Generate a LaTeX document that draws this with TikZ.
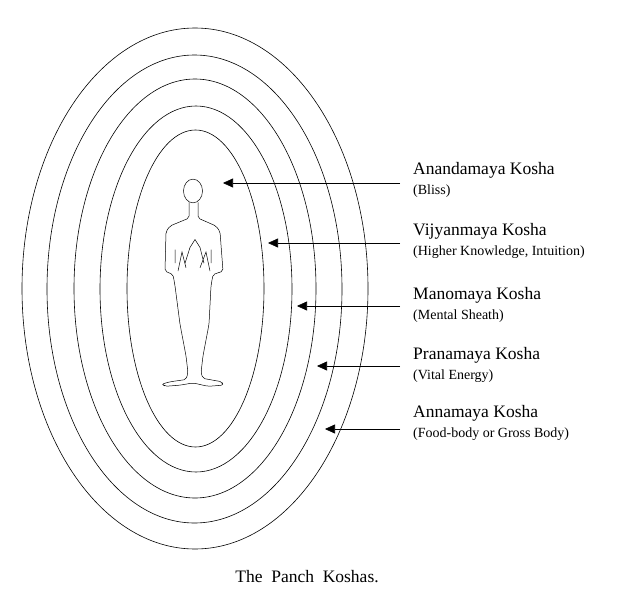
\documentclass[tikz,border=0pt]{standalone}
\usepackage{fontspec}
\setmainfont{Liberation Serif}
\usetikzlibrary{positioning, calc}
\usetikzlibrary{arrows.meta}
\begin{document}
\begin{tikzpicture}[x=1pt,y=-1pt,draw=black!100]
	\tikzstyle{k-ring}=[draw=black,line width=0.6pt]
	\tikzstyle{k-lbl}=[anchor=west,inner sep=0pt,font=\fontsize{17.5}{19}\selectfont]
	\tikzstyle{k-sub}=[anchor=north west,inner sep=0pt,font=\fontsize{14}{16}\selectfont]
	\tikzstyle{k-arr}=[draw=black,line width=0.6pt,-{Triangle[length=10pt,width=9pt]}]
	\useasboundingbox (0,0) rectangle (640,589);

	% koshas
	\draw[k-ring] (195,288.5) ellipse (173 and 260.5);
	\draw[k-ring] (194.5,289) ellipse (147.5 and 234);
	\draw[k-ring] (195,288.5) ellipse (121 and 209.5);
	\draw[k-ring] (196,289) ellipse (96 and 183);
	\draw[k-ring] (195.5,288.5) ellipse (68.5 and 158.5);

	% figure
	\begin{scope}[shift={(0,-3.2)},yscale=1.129]
	\draw[line width=0.5pt] (193,172) ellipse (9.5 and 10.5);
	\draw[line width=0.5pt,rounded corners=2pt] (189,182) -- (189,196) -- (170,203) -- (166,208) -- (165,243) -- (173,246)
		-- (175,256) -- (180,290) -- (186,318) -- (188,333) -- (186,339) -- (170,341) -- (162,343) -- (165,345)
		-- (180,344) -- (193,342) -- (208,345) -- (223,344) -- (222,341) -- (203,338) -- (201,333) -- (203,318)
		-- (209,290) -- (211,256) -- (213,246) -- (223,243) -- (220,208) -- (216,203) -- (198,196) -- (198,182);
	\draw[line width=0.5pt] (178,243) -- (182,226) -- (186,240) (185,236) -- (190,222) -- (195,215) -- (200,222) -- (204,236)
		(200,240) -- (206,226) -- (210,243) (175,236) -- (175,224) (211,236) -- (211,224);
	\end{scope}

	% labels
	\node[k-lbl] (l0) at (413,170) {Anandamaya Kosha};
	\node[k-sub] (s0) at (413,185) {(Bliss)};
	\node[k-lbl] (l1) at (413,231) {Vijyanmaya Kosha};
	\node[k-sub] (s1) at (413,246) {(Higher Knowledge, Intuition)};
	\node[k-lbl] (l2) at (413,295) {Manomaya Kosha};
	\node[k-sub] (s2) at (413,310) {(Mental Sheath)};
	\node[k-lbl] (l3) at (413,355) {Pranamaya Kosha};
	\node[k-sub] (s3) at (413,370) {(Vital Energy)};
	\node[k-lbl] (l4) at (413,413) {Annamaya Kosha};
	\node[k-sub] (s4) at (413,428) {(Food-body or Gross Body)};

	% arrow ends
	\coordinate (a0) at (223,183);
	\coordinate (a1) at (268,243);
	\coordinate (a2) at (297,306);
	\coordinate (a3) at (317,366);
	\coordinate (a4) at (325,429);
	\foreach \i/\y in {0/183,1/243,2/306,3/366,4/429}
		\draw[k-arr] (400,\y) -- (a\i);

	\node[font=\fontsize{17.5}{19}\selectfont] (cap) at (307,577) {The\ \ Panch\ \ Koshas.};
\end{tikzpicture}
\end{document}
